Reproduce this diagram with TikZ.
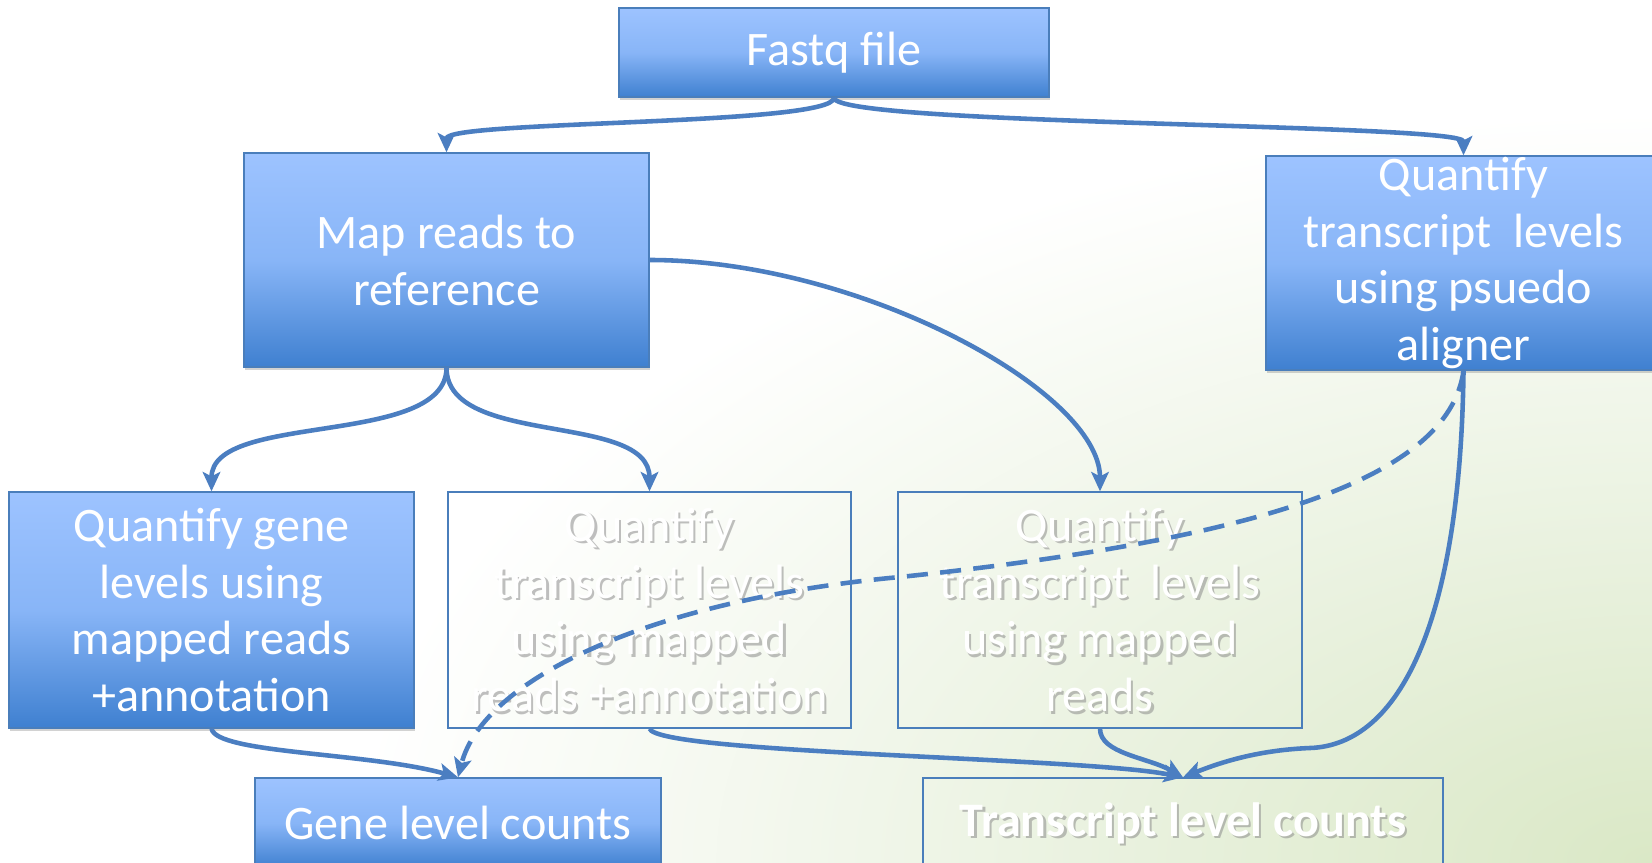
\documentclass[tikz,border=0pt]{standalone}
\usepackage{fontspec}
\setmainfont{Carlito}
\usepackage{tikz}
\usetikzlibrary{arrows.meta, shadows}
\usepackage{xcolor}
\definecolor{boxTop}{HTML}{9DC3FF}
\definecolor{boxMid}{HTML}{88B5F7}
\definecolor{boxBottom}{HTML}{3F80D0}
\definecolor{edgeBlue}{HTML}{4A7EBB}
\definecolor{linkBlue}{HTML}{4B7EC1}
\definecolor{bgGreen}{HTML}{DAE8C6}
\definecolor{bgPale}{HTML}{EAF2E0}
\newcommand{\cardfont}{\fontsize{27.4}{32.4}\selectfont}
\pgfdeclareradialshading{bgglow}{\pgfpoint{0bp}{0bp}}{color(0bp)=(bgGreen); color(11bp)=(bgPale); color(25bp)=(white); color(50bp)=(white)}

\begin{document}
\begin{tikzpicture}[x=0.02cm, y=-0.02cm,
        bluebox/.style={rectangle, draw=edgeBlue, line width=0.8pt, top color=boxTop, bottom color=boxBottom, middle color=boxMid, drop shadow={shadow xshift=0.6pt, shadow yshift=-1.8pt, opacity=0.35}, align=center, text=white, font=\cardfont, inner sep=0pt},
        ghostbox/.style={rectangle, draw=edgeBlue, line width=0.8pt, align=center, text=white, font=\cardfont, inner sep=0pt,
            path picture={\node[text=black!45, text opacity=0.55, align=center, font=\cardfont, inner sep=0pt] at ([shift={(1.3pt,-1.3pt)}]path picture bounding box.center) {#1};},
            node contents={#1}},
        link/.style={-{Stealth[length=11pt, width=10pt, inset=2.5pt]}, line width=2.6pt, draw=linkBlue},
        dashlink/.style={link, dash pattern=on 12pt off 7pt}
      ]
      \useasboundingbox (0,0) rectangle (1652,862);
      \fill[white] (0,0) rectangle (1652,862);
      \shade[shading=bgglow] (1652,862) ellipse (1300 and 750);

      \node[bluebox, minimum width=8.6cm, minimum height=1.78cm] (fastq) at (834,52.5) {Fastq file};
      \node[bluebox, minimum width=8.1cm, minimum height=4.28cm] (mapref) at (446.5,260) {Map reads to\\reference};
      \node[bluebox, minimum width=7.9cm, minimum height=4.28cm] (pseudo) at (1463.5,263) {Quantify\\transcript~ levels\\using psuedo\\aligner};
      \node[bluebox, minimum width=8.1cm, minimum height=4.72cm] (genelev) at (211.5,610) {Quantify gene\\levels using\\mapped reads\\+annotation};
      \node (txannot) at (649.5,610) [ghostbox={Quantify\\transcript levels\\using mapped\\reads +annotation}, minimum width=8.06cm, minimum height=4.72cm];
      \node (txmap) at (1100,610) [ghostbox={Quantify\\transcript~ levels\\using mapped\\reads}, minimum width=8.08cm, minimum height=4.72cm];
      \node[bluebox, minimum width=8.12cm, minimum height=1.8cm] (genecount) at (458,823) {Gene level counts};
      \node (txcount) at (1183,823) [ghostbox={\textbf{Transcript level counts}}, minimum width=10.4cm, minimum height=1.8cm];

      \coordinate (dashbend) at (900,577);
      \coordinate (railbend) at (1310,748);

      \draw[link] (fastq.south) .. controls +(0,28) and +(0,-32) .. (mapref.north);
      \draw[link] (fastq.south) .. controls +(0,28) and +(0,-32) .. (pseudo.north);
      \draw[link] (mapref.south) .. controls +(0,80) and +(0,-80) .. (genelev.north);
      \draw[link] (mapref.south) .. controls +(0,80) and +(0,-80) .. (txannot.north);
      \draw[link] (mapref.east) .. controls +(210,0) and +(0,-100) .. (txmap.north);
      \draw[link] (pseudo.south) .. controls +(-3,250) and +(90,-3) .. (railbend) .. controls +(-50,2) and +(40,-16) .. (txcount.north);
      \draw[dashlink] (pseudo.south) .. controls +(-15,110) and +(350,-37) .. (dashbend) .. controls +(-250,23) and +(25,-98) .. (genecount.north);
      \draw[link] (genelev.south) .. controls +(5,25) and +(-90,-25) .. (genecount.north);
      \draw[link] (txannot.south) .. controls +(10,25) and +(-100,-20) .. (txcount.north);
      \draw[link] (txmap.south) .. controls +(0,25) and +(-35,-20) .. (txcount.north);
    \end{tikzpicture}
\end{document}
